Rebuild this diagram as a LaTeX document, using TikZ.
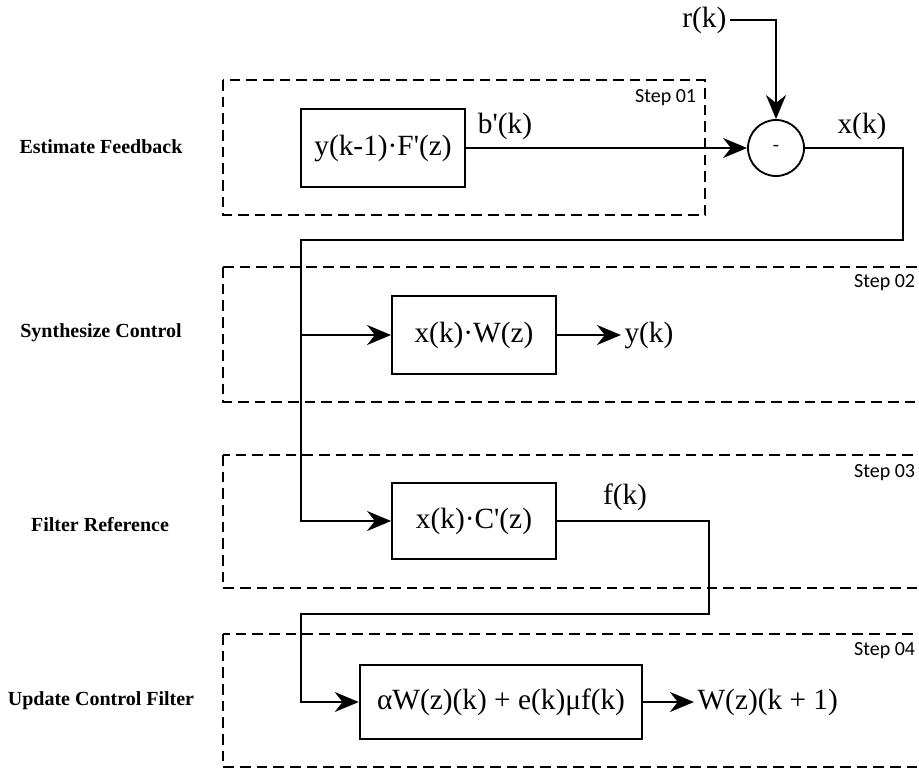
\documentclass[tikz,border=0pt]{standalone}
\usepackage{fontspec}
\setmainfont{Liberation Serif}
\newfontfamily\stepfont{Carlito}
\usetikzlibrary{arrows.meta, positioning}

\begin{document}
\begin{tikzpicture}[x=0.75pt, y=-0.75pt, line width=1.4pt,
    >={Stealth[length=18pt, width=15pt]},
    block/.style={draw, line width=1.4pt, minimum width=123pt,
                  minimum height=59pt, inner sep=0pt,
                  font=\fontsize{22}{26}\selectfont},
    sig/.style={inner sep=2pt, font=\fontsize{22}{26}\selectfont},
    sumnode/.style={circle, draw, line width=1.4pt, minimum size=42pt,
                    inner sep=0pt, font=\fontsize{14}{16}\selectfont},
    stage/.style={draw, dash pattern=on 8pt off 4.5pt, line width=1.4pt},
    steplbl/.style={anchor=base east, inner sep=0pt,
                    font=\stepfont\fontsize{15}{17}\selectfont},
    rowlbl/.style={font=\bfseries\fontsize{15}{17}\selectfont}]
  \useasboundingbox (0,0) rectangle (919,770);
  \clip (0,0) rectangle (919,770);
  % stages
  \draw[stage] (223,80) rectangle (705,215);
  \draw[stage] (223,267) rectangle (935,402);
  \draw[stage] (223,455) rectangle (935,588);
  \draw[stage] (223,634) rectangle (935,767);
  \node[steplbl] (s1) at (697,103) {Step 01};
  \node[steplbl] (s2) at (916,287) {Step 02};
  \node[steplbl] (s3) at (916,477) {Step 03};
  \node[steplbl] (s4) at (916,655) {Step 04};
  \node[rowlbl] (l1) at (101,147) {Estimate Feedback};
  \node[rowlbl] (l2) at (101,333) {Synthesize Control};
  \node[rowlbl] (l3) at (100,525) {Filter Reference};
  \node[rowlbl] (l4) at (101,701) {Update Control Filter};
  % step 01
  \node[block] (est) at (383,148) {y(k-1)·F\textquotesingle(z)};
  \node[sumnode] (sum) at (776,148) {-};
  \node[sig, anchor=east] (r) at (730,20) {r(k)};
  \node[sig] (bk) at (505,126) {b\textquotesingle(k)};
  \node[sig] (xk) at (862,126) {x(k)};
  \draw[->] (est) -- (sum);
  \draw[->] (r) -| (sum);
  % step 02
  \node[block, minimum height=58pt] (syn) at (474,335) {x(k)·W(z)};
  \node[sig, right=48pt of syn] (yk) {y(k)};
  \coordinate (turn) at (903,240);
  \coordinate (tap) at (301,335);
  \draw[->] (sum) -| (turn) -- (turn -| tap) |- (syn);
  \draw[->] (syn) -- (yk);
  % step 03
  \node[block, minimum height=57pt] (filt) at (474,521) {x(k)·C\textquotesingle(z)};
  \node[sig] (fk) at (625,497) {f(k)};
  \draw[->] (tap) |- (filt);
  % step 04
  \node[block, minimum width=212pt, minimum height=56pt] (upd) at (501,702)
       {αW(z)(k) + e(k)μf(k)};
  \node[sig, right=38pt of upd] (wk) {W(z)(k + 1)};
  \coordinate (fturn) at (709,614);
  \coordinate (fdown) at (301,614);
  \draw[->] (filt) -| (fturn) -- (fdown) |- (upd);
  \draw[->] (upd) -- (wk);
\end{tikzpicture}
\end{document}
